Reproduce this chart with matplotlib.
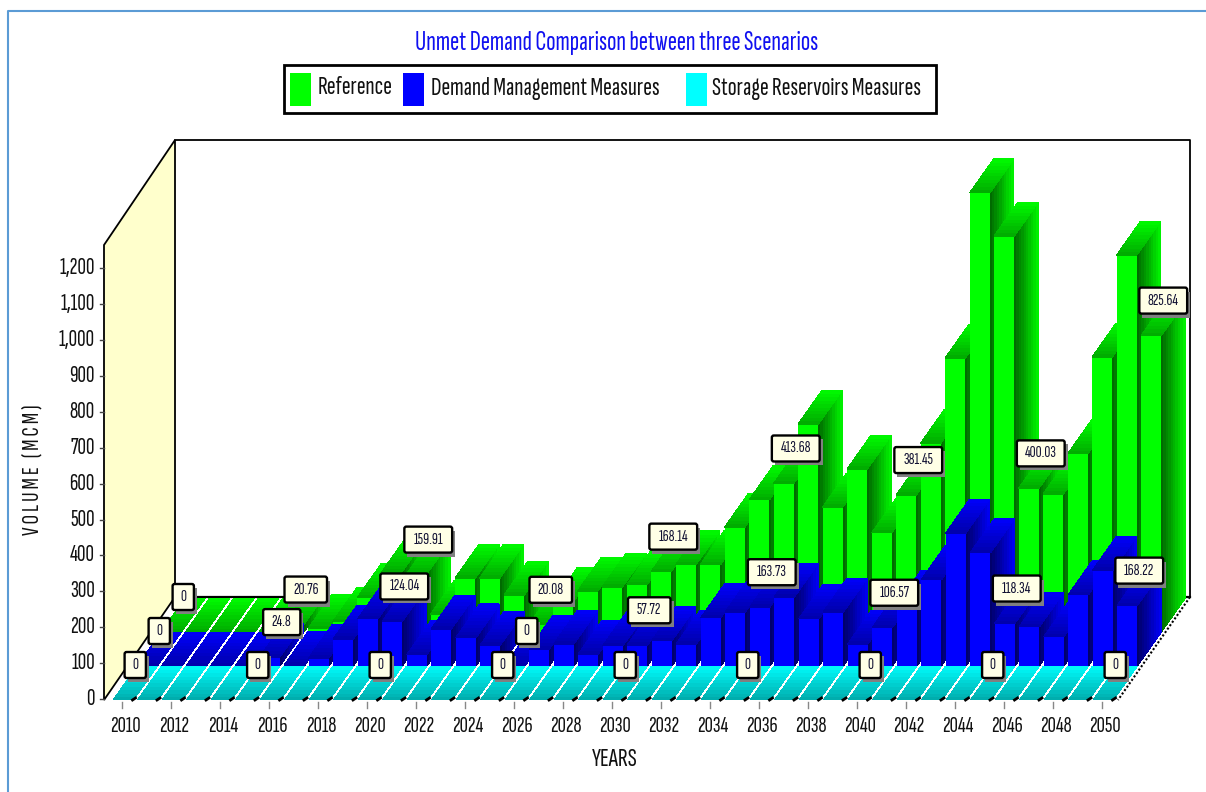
import matplotlib
matplotlib.use('Agg')
import matplotlib.pyplot as plt
from matplotlib.collections import PolyCollection
from matplotlib.patches import FancyBboxPatch, Polygon, Rectangle

plt.rcParams['font.family'] = ['Sofia Sans Extra Condensed', 'Liberation Sans', 'DejaVu Sans']

years = list(range(2010, 2051))
y_ticks = list(range(0, 1300, 100))

reference = [0, 0, 0, 0, 0, 20.76, 10, 28, 95, 167,
             159.91, 50, 150, 150, 103, 20.08, 84, 114, 125, 131,
             168.14, 187, 187, 292, 368, 413.68, 579, 348, 454, 276,
             381.45, 526, 763, 1223, 1103, 400.03, 384, 496, 766, 1050,
             825.64]
demand = [0, 0, 0, 0, 0, 24.8, 2, 22, 75, 131,
          124.04, 31, 103, 78, 58, 0, 47, 61, 33, 56,
          57.72, 70, 61, 134, 150, 163.73, 192, 131, 150, 61,
          106.57, 170, 240, 370, 315, 118.34, 109, 81, 198, 267,
          168.22]
storage = [0] * 41

# pixel layout of the fake 3d box
PX_PER_UNIT = 0.359
STEP = 24.5
BAR_W = 20.5
DEPTH_X = 24.0
DEPTH_Y = 34.0
LEFT = 113.0
FLOOR = 700.0


def front_xy(i, row):
    # row 0 is the front (storage), row 2 the back (reference)
    return LEFT + STEP * i + DEPTH_X * row, FLOOR - DEPTH_Y * row


def shade(rgb, k):
    return (rgb[0] * k, rgb[1] * k, rgb[2] * k)


def bar_faces(i, value, row, rgb, polys, cols):
    x0, y0 = front_xy(i, row)
    x1 = x0 + BAR_W
    top = y0 - value * PX_PER_UNIT
    if value > 0:
        polys.append([(x0, y0), (x1, y0), (x1, top), (x0, top)])
        cols.append(rgb)
        # right side, dark at the front edge
        n = 10
        for k in range(n):
            a, b = k / n, (k + 1.15) / n
            b = min(b, 1)
            polys.append([(x1 + DEPTH_X * a, y0 - DEPTH_Y * a), (x1 + DEPTH_X * b, y0 - DEPTH_Y * b),
                          (x1 + DEPTH_X * b, top - DEPTH_Y * b), (x1 + DEPTH_X * a, top - DEPTH_Y * a)])
            cols.append(shade(rgb, 0.42 + 0.58 * a))
    n = 10
    for k in range(n):
        a, b = k / n, min((k + 1.15) / n, 1)
        polys.append([(x0 + DEPTH_X * a, top - DEPTH_Y * a), (x1 + DEPTH_X * a, top - DEPTH_Y * a),
                      (x1 + DEPTH_X * b, top - DEPTH_Y * b), (x0 + DEPTH_X * b, top - DEPTH_Y * b)])
        cols.append(shade(rgb, 0.68 + 0.32 * a))


def data_label(ax, i, value, row):
    x0, y0 = front_xy(i, row)
    cx = x0 + BAR_W / 2 + DEPTH_X / 2
    cy = y0 - value * PX_PER_UNIT - DEPTH_Y / 2 - 18
    txt = '%g' % value
    w = 16 + 5.3 * len(txt)
    h = 26
    ax.add_patch(Rectangle((cx - w / 2 + 3, cy - h / 2 + 4), w, h, fc='#808080', ec='none', zorder=10))
    ax.add_patch(FancyBboxPatch((cx - w / 2, cy - h / 2), w, h, boxstyle='round,pad=0,rounding_size=2',
                                fc='#FFFFE6', ec='black', lw=1.7, zorder=11))
    ax.text(cx, cy, txt, ha='center', va='center', fontsize=12, color='#111133', zorder=12)


fig = plt.figure(figsize=(12.06, 7.92), dpi=100)
ax = fig.add_axes([0, 0, 1, 1])
ax.set_xlim(0, 1206)
ax.set_ylim(792, 0)
ax.axis('off')

# outer frame
ax.plot([8, 8, 1206], [792, 11, 11], color='#5B9BD5', lw=1.5)

# walls and floor
ax.add_patch(Polygon([(104, 245), (175, 140), (175, 597), (104, 700)], fc='#FFFFCC', ec='black', lw=1.3))
ax.plot([175, 1190, 1190], [140, 140, 597], color='black', lw=1.3)
ax.plot([175, 1190], [597, 597], color='black', lw=1.6)
ax.plot([1190, 1118], [597, 700], color='black', lw=1.5, ls=(0, (1, 1)))

polys, cols = [], []
for row, (vals, rgb) in reversed(list(enumerate([(storage, (0, 1, 1)), (demand, (0, 0, 1)),
                                                 (reference, (0, 1, 0))]))):
    for i, v in enumerate(vals):
        bar_faces(i, v, row, rgb, polys, cols)
ax.add_collection(PolyCollection(polys, facecolors=cols, edgecolors='none', antialiaseds=False, zorder=3))

# small black marks where the gaps meet the floor edge
for i in range(41):
    x = LEFT + STEP * i + BAR_W
    ax.plot([x - 1, x + 2], [700, 698], color='black', lw=2, zorder=4)

for i in range(0, 41, 5):
    data_label(ax, i, storage[i], 0)
    data_label(ax, i, demand[i], 1)
    data_label(ax, i, reference[i], 2)

# axes
for v in y_ticks:
    y = 699 - v * PX_PER_UNIT
    ax.plot([100, 104], [y, y], color='#444444', lw=1)
    ax.text(95, y, format(v, ','), ha='right', va='center', fontsize=17, color='#111111', fontweight='medium')
for i, yr in enumerate(years):
    if yr % 2 == 0:
        x = 122 + STEP * i
        ax.plot([x, x], [702, 708], color='#888888', lw=1)
        ax.text(x + 3, 727, str(yr), ha='center', va='center', fontsize=16.5, color='#111111', fontweight='medium')

ax.text(615, 759, 'YEARS', ha='center', va='center', fontsize=19, color='#111111', fontweight='medium')
ax.text(32, 470, 'V O L U M E   ( M C M )', rotation=90, ha='center', va='center', fontsize=17,
        color='#111111', fontweight='bold')
ax.text(617, 43, 'Unmet Demand Comparison between three Scenarios', ha='center', va='center',
        fontsize=20, color='#1010F0', fontweight='bold')

# legend
ax.add_patch(Rectangle((284, 65), 652, 48, fc='white', ec='black', lw=2))
for sx, tx, col, name in [(290, 318, '#00FF00', 'Reference'),
                          (403, 431, '#0000FF', 'Demand Management Measures'),
                          (686, 712, '#00FFFF', 'Storage Reservoirs Measures')]:
    ax.add_patch(Rectangle((sx, 73), 21, 33, fc=col, ec='none'))
    ax.text(tx, 88, name, ha='left', va='center', fontsize=19, color='#111111', fontweight='medium')

fig.savefig('out.png', dpi=100)
